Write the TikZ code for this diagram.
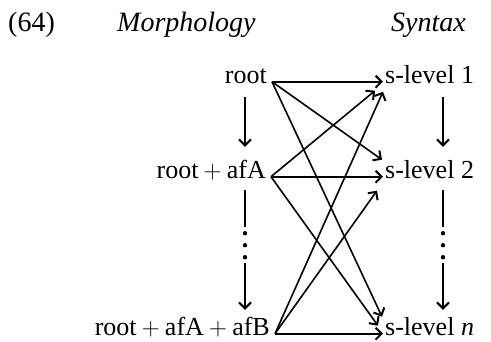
\documentclass[tikz,border=0pt]{standalone}
\usepackage{fontspec}
\setmainfont{Liberation Serif}
\usetikzlibrary{arrows.meta,calc}

\newcommand\mplus{\hspace{0.2em}$+$\hspace{0.2em}}

\begin{document}
\begin{tikzpicture}[x=1pt,y=-1pt,
  every node/.style={font=\fontsize{26}{30}\selectfont, inner sep=0pt},
  head/.style={anchor=base west, font=\fontsize{28}{32}\selectfont},
  morph/.style={anchor=base east, inner xsep=5pt, text height=17pt, text depth=3pt},
  synt/.style={anchor=base west, inner xsep=2pt, text height=17pt, text depth=3pt},
  arr/.style={-{Straight Barb[length=6pt,width=12pt,line width=2pt]}, line width=1.6pt},
  vdots/.style={dash pattern=on 37pt off 36pt on 200pt}]

\useasboundingbox (0,0) rectangle (491,342);

% headings
\node[head] (num) at (8,32) {(64)};
\node[head] (mhead) at (117,32) {\itshape Morphology};
\node[head] (shead) at (391,32) {\itshape Syntax};

% columns
\coordinate (mcol) at (245,0);
\coordinate (scol) at (443,0);

% morphology side
\node[morph] (root) at (272,84) {root};
\node[morph] (afA) at (271,179) {root\mplus afA};
\node[morph] (afB) at (275,336) {root\mplus afA\mplus afB};

% syntax side
\node[synt] (s1) at (383,84) {s-level 1};
\node[synt] (s2) at (383,179) {s-level 2};
\node[synt] (sn) at (383,336) {s-level \textit{n}};

% straight across
\draw[arr] (root.mid east) -- (s1.mid west);
\draw[arr] (afA.mid east) -- (s2.mid west);
\draw[arr] (afB.mid east) -- (sn.mid west);

% crossing
\draw[arr] (root.mid east) -- ($(s2.mid west)+(-1,-17)$);
\draw[arr] (root.mid east) -- ($(sn.mid west)+(-1,-17)$);
\draw[arr] (afA.mid east) -- ($(s1.mid west)+(-8,9)$);
\draw[arr] (afA.mid east) -- ($(sn.mid west)+(-5,-8)$);
\draw[arr] (afB.mid east) -- ($(s1.mid west)+(0,10)$);
\draw[arr] (afB.mid east) -- ($(s2.mid west)+(-6,14)$);

% downward
\draw[arr, shorten <=10pt, shorten >=15pt] (root.south -| mcol) -- (afA.north -| mcol);
\draw[arr, shorten <=10pt, shorten >=15pt] (s1.south -| scol) -- (s2.north -| scol);
\foreach \c/\u/\l in {mcol/afA/afB, scol/s2/sn}{
  \draw[arr, vdots, shorten <=8pt, shorten >=9pt] (\u.south -| \c) -- (\l.north -| \c);
  \foreach \d in {51,63,75}
    \fill ($(\u.south -| \c)!\d pt!(\l.north -| \c)$) circle (2.2pt);
}

\end{tikzpicture}
\end{document}
